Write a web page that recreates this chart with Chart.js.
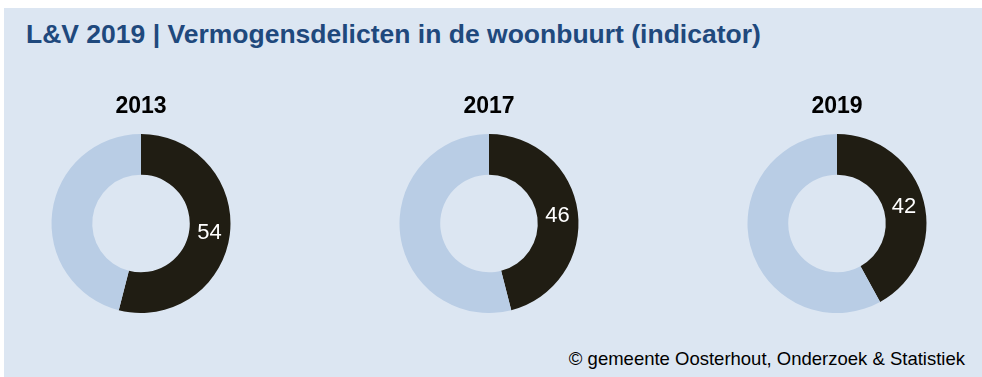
<!DOCTYPE html>
<html>
<head>
<meta charset="utf-8">
<script src="https://cdn.jsdelivr.net/npm/chart.js@4"></script>
<style>
  body { margin: 0; width: 982px; height: 377px; background: #fff; font-family: Arial, "Liberation Sans", sans-serif; overflow: hidden; }
  #panel { position: absolute; left: 4px; top: 8px; right: 0; bottom: 0; background: #dce6f2; }
  #title { position: absolute; left: 26px; top: 20.5px; font-size: 26.5px; line-height: 26.5px; font-weight: bold; color: #1f497d; white-space: nowrap; }
  #source { position: absolute; right: 17px; top: 350px; font-size: 18.5px; line-height: 18.5px; color: #000; white-space: nowrap; }
  .donut { position: absolute; top: 90px; width: 240px; height: 223px; }
</style>
</head>
<body>
<div id="panel"></div>
<div id="title">L&amp;V 2019 | Vermogensdelicten in de woonbuurt (indicator)</div>
<div class="donut" style="left:20.7px"><canvas id="chart0"></canvas></div>
<div class="donut" style="left:368.7px"><canvas id="chart1"></canvas></div>
<div class="donut" style="left:716.7px"><canvas id="chart2"></canvas></div>
<div id="source">© gemeente Oosterhout, Onderzoek &amp; Statistiek</div>

<script>
// indicator score per year, and the rest of the ring
const years = ['2013', '2017', '2019'];
const scores = [54, 46, 42];
const rest = [46, 54, 58];

const FONT = 'Arial, "Liberation Sans", sans-serif';

// writes the score inside its own segment
const scoreLabel = {
  id: 'scoreLabel',
  afterDatasetsDraw(chart) {
    const ctx = chart.ctx;
    const arc = chart.getDatasetMeta(0).data[0];
    const pos = arc.tooltipPosition();
    ctx.save();
    ctx.font = '22px ' + FONT;
    ctx.fillStyle = '#ffffff';
    ctx.textAlign = 'center';
    ctx.textBaseline = 'middle';
    ctx.fillText(chart.data.datasets[0].data[0], pos.x, pos.y + 1);
    ctx.restore();
  }
};

years.forEach((year, i) => {
  new Chart(document.getElementById('chart' + i), {
    type: 'doughnut',
    data: {
      labels: ['score', 'rest'],
      datasets: [{
        data: [scores[i], rest[i]],
        backgroundColor: ['#201d13', '#b9cde5'],
        borderWidth: 0,
        hoverOffset: 0
      }]
    },
    options: {
      responsive: true,
      maintainAspectRatio: false,
      animation: false,
      cutout: '54.5%',
      layout: { padding: 0 },
      plugins: {
        legend: { display: false },
        tooltip: { enabled: false },
        title: {
          display: true,
          text: year,
          color: '#000',
          font: { family: FONT, size: 23, weight: 'bold', lineHeight: 1.2 },
          padding: { top: 3, bottom: 13.4 }
        }
      }
    },
    plugins: [scoreLabel]
  });
});
</script>
</body>
</html>
